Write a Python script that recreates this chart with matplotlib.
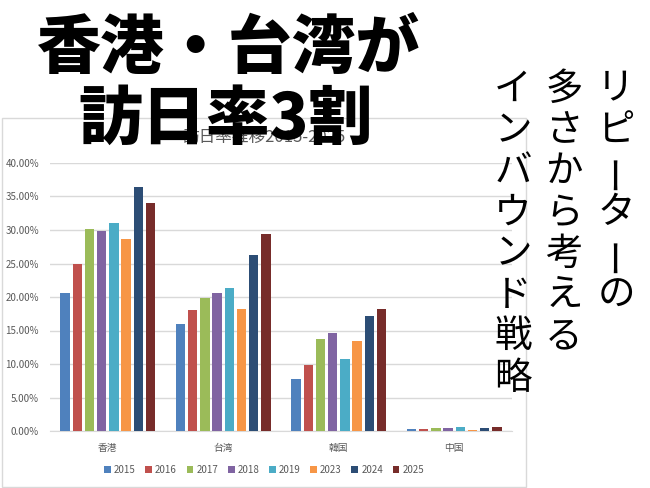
import matplotlib
matplotlib.use("Agg")
import matplotlib.pyplot as plt
from matplotlib.patches import Rectangle
import numpy as np

plt.rcParams['font.family'] = ['Noto Sans CJK JP', 'DejaVu Sans']

categories = ["香港", "台湾", "韓国", "中国"]
years = ["2015", "2016", "2017", "2018", "2019", "2023", "2024", "2025"]
hongkong = [20.6, 24.9, 30.2, 29.9, 31.1, 28.7, 36.4, 34.1]
taiwan = [16.0, 18.1, 19.8, 20.6, 21.3, 18.2, 26.3, 29.4]
korea = [7.7, 9.8, 13.7, 14.6, 10.7, 13.4, 17.1, 18.2]
china = [0.25, 0.35, 0.45, 0.5, 0.65, 0.15, 0.45, 0.6]
colors = ["#4F81BD", "#C0504D", "#9BBB59", "#8064A2", "#4BACC6",
          "#F79646", "#2C4D75", "#772C2A"]
chart_title = "訪日率推移2015-2025"
headline = ["香港・台湾が", "訪日率3割"]
side_columns = ["リピーターの", "多さから考える", "インバウンド戦略"]

W, H = 650, 488
fig = plt.figure(figsize=(6.5, 4.88), dpi=100)
fig.patch.set_facecolor("white")

# chart frame
fig.patches.append(Rectangle((2 / W, 1 - 487 / H), 524 / W, 369 / H,
                             transform=fig.transFigure, fill=False,
                             edgecolor="#D9D9D9", linewidth=1, zorder=0))

ax = fig.add_axes([50 / W, 1 - 431 / H, 462 / W, 268 / H])
data = np.array([hongkong, taiwan, korea, china]) / 100.0
x = np.arange(len(categories))
pitch = 0.1056
bw = 0.082
for i, yr in enumerate(years):
    ax.bar(x + (i - 3.5) * pitch, data[:, i], width=bw, color=colors[i],
           label=yr, linewidth=0, zorder=3)

ax.set_xlim(-0.5, 3.5)
ax.set_ylim(0, 0.40)
ax.set_yticks(np.arange(0, 0.401, 0.05))
ax.yaxis.set_major_formatter(matplotlib.ticker.FuncFormatter(lambda v, p: f"{v*100:.2f}%"))
ax.set_xticks(x)
ax.set_xticklabels(categories)
ax.grid(axis="y", color="#D9D9D9", linewidth=1, zorder=0)
for s in ["top", "right", "left"]:
    ax.spines[s].set_visible(False)
ax.spines["bottom"].set_color("#D9D9D9")
ax.tick_params(axis="both", length=0, labelsize=7, colors="#595959")
ax.tick_params(axis="y", pad=8)
ax.tick_params(axis="x", pad=9)

fig.legend(loc="center", bbox_to_anchor=(264 / W, 1 - 470 / H), ncol=8,
           frameon=False, fontsize=7, handlelength=0.7, handleheight=0.7,
           handletextpad=0.3, columnspacing=1.0, labelcolor="#595959")

fig.text(264 / W, 1 - 137 / H, chart_title, ha="center", va="center",
         fontsize=12, color="#595959", zorder=1)

# headline (drawn over the chart title, as in the original)
fig.text(229 / W, 1 - 49 / H, headline[0], ha="center", va="center",
         fontsize=46, fontweight="black", color="black", zorder=5)
fig.text(226 / W, 1 - 120 / H, headline[1], ha="center", va="center",
         fontsize=46, fontweight="black", color="black", zorder=5)

# vertical side text
col_x = [616, 564, 513]
for cx, col in zip(col_x, side_columns):
    for j, ch in enumerate(col):
        rot = 90 if ch == "ー" else 0
        fig.text(cx / W, 1 - (89 + 41.3 * j) / H, ch, ha="center", va="center",
                 fontsize=27, color="black", rotation=rot, zorder=5)

fig.savefig("out.png", dpi=100)
